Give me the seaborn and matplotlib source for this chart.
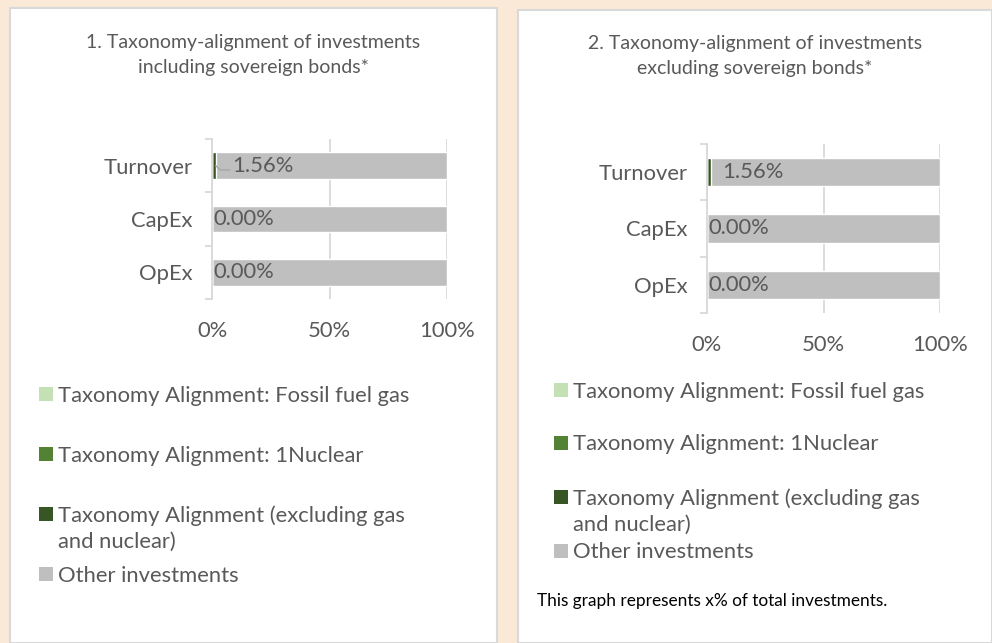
import matplotlib
matplotlib.use('Agg')
import matplotlib.pyplot as plt
from matplotlib.patches import Rectangle
import pandas as pd
import seaborn as sns

# Data
categories = ['Turnover', 'CapEx', 'OpEx']
fossil_gas = [0.0, 0.0, 0.0]
nuclear = [0.0, 0.0, 0.0]
aligned_excl = [1.56, 0.0, 0.0]
other = [98.44, 100.0, 100.0]
value_labels = ['1.56%', '0.00%', '0.00%']
titles = ['1. Taxonomy-alignment of investments\nincluding sovereign bonds*',
          '2. Taxonomy-alignment of investments\nexcluding sovereign bonds*']
series_names = ['Taxonomy Alignment: Fossil fuel gas',
                'Taxonomy Alignment: 1Nuclear',
                'Taxonomy Alignment (excluding gas\nand nuclear)',
                'Other investments']
series_colors = ['#C5E0B4', '#548235', '#375623', '#BFBFBF']
footnote = 'This graph represents x% of total investments.'

sns.set_theme(style='white')
plt.rcParams['font.family'] = ['Lato', 'DejaVu Sans']
text_color = '#595959'
grid_color = '#D9D9D9'

W, H = 992, 643
fig = plt.figure(figsize=(W / 100, H / 100), dpi=100)
fig.patch.set_facecolor('#FBE9D8')


def fx(px):
    return px / W


def fy(py):
    return 1 - py / H


# white panels
for x0, x1, y0 in [(10, 497, 8), (518, 992, 10)]:
    fig.patches.append(Rectangle((fx(x0), 0), fx(x1 - x0), fy(y0),
                                 transform=fig.transFigure, facecolor='white',
                                 edgecolor='#D9D9D9', linewidth=1.5, zorder=-5))

df = pd.DataFrame({'category': categories, 'gas': fossil_gas, 'nuclear': nuclear,
                   'excl': aligned_excl, 'other': other})
# cumulative totals, drawn from the back to the front
df['c_other'] = df['gas'] + df['nuclear'] + df['excl'] + df['other']
df['c_excl'] = df['gas'] + df['nuclear'] + df['excl']
df['c_nuclear'] = df['gas'] + df['nuclear']
df['c_gas'] = df['gas']

panels = [
    dict(box=(212, 139, 447, 299), title_y=55, lbl_x=[8.5, 0.4, 0.4], leader=True,
         tick_y=331, legend_x=39, legend_y=[394, 454, 514, 574]),
    dict(box=(707, 144, 940, 313), title_y=56, lbl_x=[6.5, 0.8, 0.4], leader=False,
         tick_y=345, legend_x=554, legend_y=[390, 443, 497, 551]),
]

fs = 15.8
for i, p in enumerate(panels):
    l, t, r, b = p['box']
    ax = fig.add_axes([fx(l), fy(b), fx(r - l), fy(t) - fy(b)])
    ax.set_facecolor('none')
    for col, c in zip(['c_other', 'c_excl', 'c_nuclear', 'c_gas'], series_colors[::-1]):
        sns.barplot(data=df, x=col, y='category', orient='h', color=c,
                    width=0.5, saturation=1, ax=ax, zorder=3)
    ax.set_xlim(0, 100)
    ax.set_ylim(2.5, -0.5)
    ax.set_xticks([0, 50, 100])
    ax.set_xticklabels(['0%', '50%', '100%'])
    ax.grid(axis='x', color=grid_color, linewidth=1.3, zorder=0)
    ax.set_xlabel('')
    ax.set_ylabel('')
    for s in ['top', 'right', 'bottom']:
        ax.spines[s].set_visible(False)
    ax.spines['left'].set_color(grid_color)
    ax.spines['left'].set_linewidth(1.3)
    ax.spines['left'].set_zorder(4)
    ax.set_yticks([-0.5, 0.5, 1.5, 2.5], minor=True)
    ax.tick_params(axis='y', which='minor', length=5, color=grid_color, width=1.3, left=True)
    ax.tick_params(axis='y', which='major', length=0, pad=14, labelsize=fs, labelcolor=text_color)
    ax.tick_params(axis='x', length=0, labelsize=fs, labelcolor=text_color,
                   pad=(p['tick_y'] - b) - 16)
    for j, lab in enumerate(value_labels):
        ax.text(p['lbl_x'][j], j, lab, ha='left', va='center', fontsize=fs,
                color=text_color, zorder=5)
    if p['leader']:
        ax.plot([1.56, 3.5, 7.5], [0, 0.08, 0.08], color='#A6A6A6', lw=1, zorder=5,
                clip_on=False)

    cx = (fx(10) + fx(497)) / 2 if i == 0 else (fx(518) + fx(992)) / 2
    fig.text(cx, fy(p['title_y']), titles[i], ha='center', va='center', fontsize=14,
             color=text_color, linespacing=1.62)

    for k, name in enumerate(series_names):
        yy = p['legend_y'][k]
        fig.patches.append(Rectangle((fx(p['legend_x']), fy(yy + 7)), fx(14), fy(0) - fy(14),
                                     transform=fig.transFigure, facecolor=series_colors[k],
                                     edgecolor='none'))
        fig.text(fx(p['legend_x'] + 19), fy(yy - 8.5), name, ha='left', va='top',
                 fontsize=fs, color=text_color, linespacing=1.35)

fig.text(fx(537), fy(601), footnote, ha='left', va='center', fontsize=12.4, color='black')

fig.savefig('out.png', dpi=100, facecolor=fig.get_facecolor())
